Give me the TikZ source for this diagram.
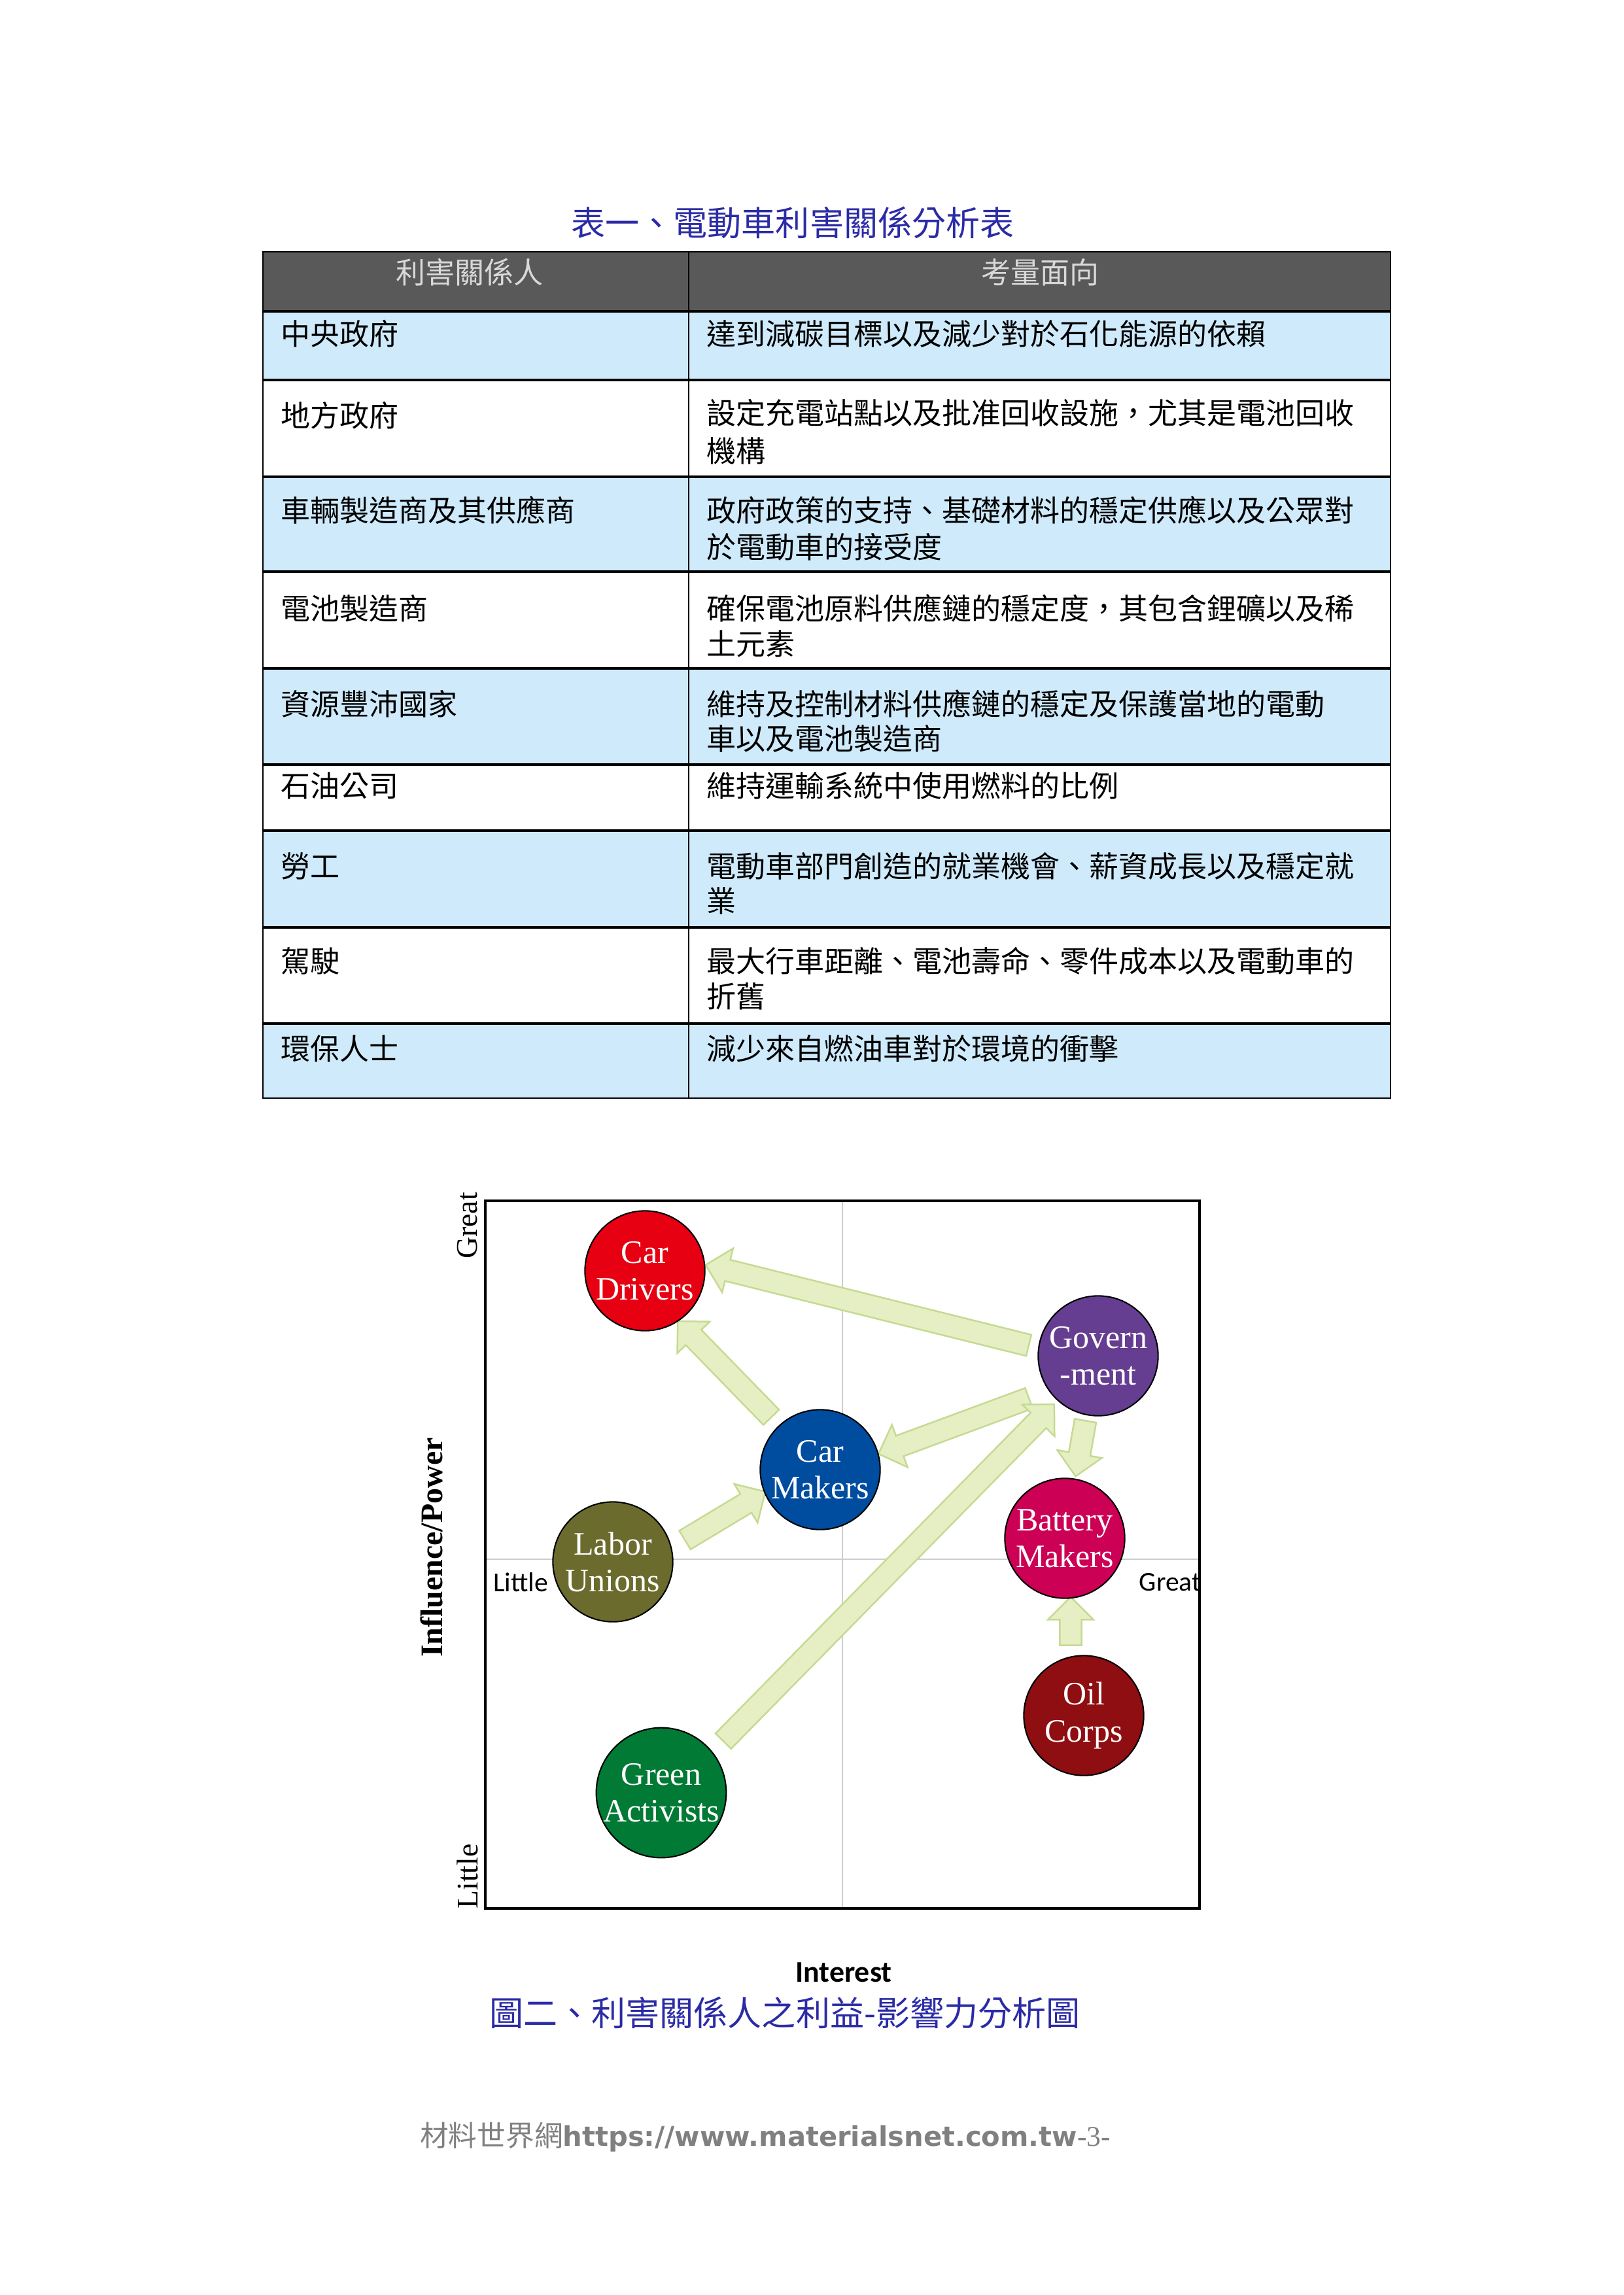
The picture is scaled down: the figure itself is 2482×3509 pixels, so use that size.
\documentclass[tikz,border=0pt]{standalone}
\usepackage{fontspec}
\setmainfont{Liberation Serif}
\newfontfamily\cjk{Noto Sans CJK TC}
\newfontfamily\carl{Carlito}
\newfontfamily\urlf{DejaVu Sans}
\usetikzlibrary{shapes.arrows,calc}
\definecolor{ttl}{HTML}{2B2BA6}
\definecolor{hdr}{HTML}{595959}
\definecolor{rowb}{HTML}{CFEAFB}
\definecolor{afill}{HTML}{E6EFC3}
\definecolor{aline}{HTML}{C5DA92}
\begin{document}
\begin{tikzpicture}[x=0.24pt,y=-0.24pt,
  cell/.style={font=\cjk\fontsize{10.8}{12}\selectfont,anchor=west,inner sep=0},
  ball/.style={circle,draw=black,line width=0.5pt,minimum size=44pt,inner sep=0,text=white,align=center,font=\fontsize{12}{13.5}\selectfont},
  fat/.style={single arrow,draw=aline,fill=afill,line width=0.6pt,minimum width=16pt,single arrow head extend=4.3pt,inner xsep=0pt,inner ysep=3.7pt,single arrow head indent=0pt}]
\useasboundingbox (0,0) rectangle (2482,3509);
% title
\node[font=\cjk\fontsize{12.5}{14}\selectfont,text=ttl] (title) at (1212,340) {表一、電動車利害關係分析表};
% table fills
\fill[hdr] (402,385) rectangle (2126,476);
\foreach \a/\b in {476/581,729/874,1022/1169,1270/1418,1565/1679}
  \fill[rowb] (402,\a) rectangle (2126,\b);
\draw[line width=0.5pt] (402,385) rectangle (2126,1679);
\draw[line width=0.5pt] (1053,385) -- (1053,1679);
\foreach \r in {476,581,729,874,1022,1169,1270,1418,1565}
  \draw[line width=0.9pt] (402,\r) -- (2126,\r);
\node[cell,anchor=center,text=white!85!black] (h1) at (718,416) {利害關係人};
\node[cell,anchor=center,text=white!85!black] (h2) at (1590,416) {考量面向};
\node[cell] (a1) at (429,510) {中央政府};
\node[cell] (b1) at (1080,510) {達到減碳目標以及減少對於石化能源的依賴};
\node[cell] (a2) at (429,635) {地方政府};
\node[cell] (b2) at (1080,631) {設定充電站點以及批准回收設施，尤其是電池回收};
\node[cell] (c2) at (1080,689) {機構};
\node[cell] (a3) at (429,780) {車輛製造商及其供應商};
\node[cell] (b3) at (1080,780) {政府政策的支持、基礎材料的穩定供應以及公眾對};
\node[cell] (c3) at (1080,836) {於電動車的接受度};
\node[cell] (a4) at (429,930) {電池製造商};
\node[cell] (b4) at (1080,930) {確保電池原料供應鏈的穩定度，其包含鋰礦以及稀};
\node[cell] (c4) at (1080,984) {土元素};
\node[cell] (a5) at (429,1076) {資源豐沛國家};
\node[cell] (b5) at (1080,1076) {維持及控制材料供應鏈的穩定及保護當地的電動};
\node[cell] (c5) at (1080,1129) {車以及電池製造商};
\node[cell] (a6) at (429,1201) {石油公司};
\node[cell] (b6) at (1080,1201) {維持運輸系統中使用燃料的比例};
\node[cell] (a7) at (429,1324) {勞工};
\node[cell] (b7) at (1080,1324) {電動車部門創造的就業機會、薪資成長以及穩定就};
\node[cell] (c7) at (1080,1377) {業};
\node[cell] (a8) at (429,1469) {駕駛};
\node[cell] (b8) at (1080,1469) {最大行車距離、電池壽命、零件成本以及電動車的};
\node[cell] (c8) at (1080,1523) {折舊};
\node[cell] (a9) at (429,1603) {環保人士};
\node[cell] (b9) at (1080,1603) {減少來自燃油車對於環境的衝擊};
% chart
\draw[gray!40,line width=0.6pt] (1288,1836) -- (1288,2918) (742,2384) -- (1834,2384);
\draw[line width=1.1pt] (742,1836) rectangle (1834,2918);
\node[rotate=90,font=\fontsize{11}{12}\selectfont] (great) at (715,1874) {Great};
\node[rotate=90,font=\fontsize{11}{12}\selectfont] (little) at (715,2869) {Little};
\node[rotate=90,font=\bfseries\fontsize{11.5}{12}\selectfont] (ip) at (660,2366) {Influence/Power};
\node[font=\carl\fontsize{10}{12}\selectfont] (lx) at (796,2419) {Little};
\node[font=\carl\fontsize{10}{12}\selectfont] (gx) at (1789,2419) {Great};
\node[font=\carl\bfseries\fontsize{11}{12}\selectfont] (int) at (1290,3016) {Interest};
\node[font=\cjk\fontsize{12.5}{14}\selectfont,text=ttl] (cap) at (1200,3077) {圖二、利害關係人之利益-影響力分析圖};
\node[text=gray,inner sep=0] (foot) at (1170,3267) {{\cjk\fontsize{10.5}{12}\selectfont 材料世界網}{\urlf\bfseries\fontsize{10}{12}\selectfont https://www.materialsnet.com.tw}{\fontsize{10.5}{12}\selectfont -3-}};
% arrows
\coordinate (g1) at (1581,2059); \coordinate (d1) at (1087,1936);
\coordinate (m1) at (1185,2173); \coordinate (d2) at (1042,2026);
\coordinate (g2) at (1581,2135); \coordinate (m2) at (1351,2220);
\coordinate (e1) at (1100,2668); \coordinate (g3) at (1606,2153);
\coordinate (g4) at (1661,2164); \coordinate (b1a) at (1646,2249);
\coordinate (o1) at (1637,2524); \coordinate (b2a) at (1637,2450);
\coordinate (l1) at (1040,2359); \coordinate (m3) at (1163,2285);
\foreach \s/\t in {g1/d1,m1/d2,g2/m2,e1/g3,g4/b1a,o1/b2a,l1/m3}
  \path let \p1=($(\t)-(\s)$), \n1={atan2(\y1,\x1)}, \n2={veclen(\x1,\y1)} in
    node[fat,minimum height=\n2,rotate=\n1] at ($(\s)!0.5!(\t)$) {};
% circles
\node[ball,fill={rgb,255:red,230;green,0;blue,18}] (drv) at (986,1943) {Car\\Drivers};
\node[ball,fill={rgb,255:red,102;green,62;blue,145}] (gov) at (1679,2073) {Govern\\-ment};
\node[ball,fill={rgb,255:red,0;green,77;blue,160}] (cm) at (1254,2247) {Car\\Makers};
\node[ball,fill={rgb,255:red,107;green,107;blue,46}] (lab) at (937,2388) {Labor\\Unions};
\node[ball,fill={rgb,255:red,204;green,0;blue,85}] (bat) at (1628,2352) {Battery\\Makers};
\node[ball,fill={rgb,255:red,142;green,14;blue,18}] (oil) at (1657,2623) {Oil\\Corps};
\node[ball,fill={rgb,255:red,0;green,122;blue,53}] (grn) at (1011,2741) {Green\\Activists};
\end{tikzpicture}
\end{document}
